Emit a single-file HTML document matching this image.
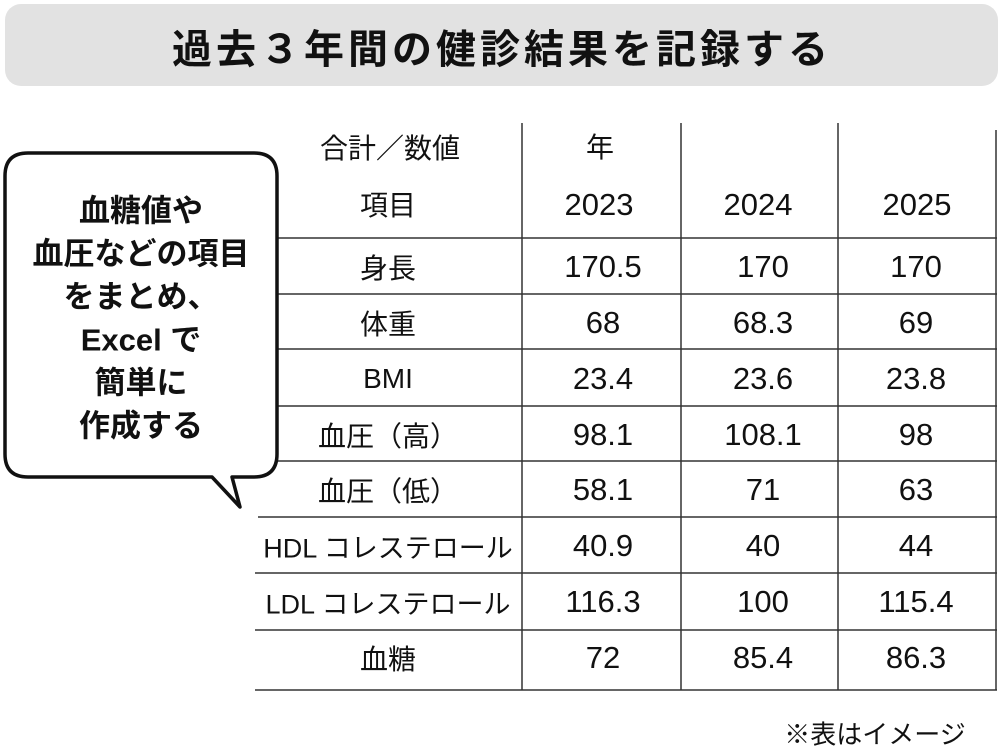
<!DOCTYPE html>
<html><head><meta charset="utf-8"><style>
body{margin:0;width:1000px;height:751px;background:#fff;position:relative;overflow:hidden;font-family:"Liberation Sans","Noto Sans CJK JP",sans-serif;color:#111}
.t{position:absolute;font-size:28px;text-align:center;transform:translate(-50%,-50%);white-space:nowrap}
.n{font-size:31px}
.b{position:absolute;font-size:31px;font-weight:bold;text-align:center;white-space:nowrap;left:141px;transform:translate(-50%,-50%)}
</style></head><body>
<svg width="1000" height="751" style="position:absolute;left:0;top:0">
<rect x="5" y="4" width="993" height="82" rx="16" fill="#e2e2e2"/>
<g stroke="#333" stroke-width="1.5">
<line x1="522" y1="123" x2="522" y2="690"/>
<line x1="681" y1="123" x2="681" y2="690"/>
<line x1="838" y1="123" x2="838" y2="690"/>
<line x1="996" y1="130" x2="996" y2="690"/>
<line x1="278" y1="238" x2="997" y2="238"/>
<line x1="278" y1="294" x2="997" y2="294"/>
<line x1="278" y1="349" x2="997" y2="349"/>
<line x1="278" y1="406" x2="997" y2="406"/>
<line x1="278" y1="461" x2="997" y2="461"/>
<line x1="258" y1="517" x2="997" y2="517"/>
<line x1="255" y1="573" x2="997" y2="573"/>
<line x1="255" y1="630" x2="997" y2="630"/>
<line x1="255" y1="690" x2="997" y2="690"/>
</g>
<path d="M28,153 H254 Q277,153 277,176 V454 Q277,477 254,477 H232 L240,507 L212,477 H28 Q5,477 5,454 V176 Q5,153 28,153 Z" fill="#fff" stroke="#111" stroke-width="3.5" stroke-linejoin="round"/>
</svg>
<div class="t" style="left:502px;top:46px;font-size:40px;font-weight:bold;letter-spacing:4px">過去３年間の健診結果を記録する</div>
<div class="b" style="top:208px">血糖値や</div>
<div class="b" style="top:251px">血圧などの項目</div>
<div class="b" style="top:294px">をまとめ、</div>
<div class="b" style="top:337px">Excel で</div>
<div class="b" style="top:380px">簡単に</div>
<div class="b" style="top:423px">作成する</div>
<div class="t" style="left:390px;top:147px">合計／数値</div>
<div class="t" style="left:600px;top:146px">年</div>
<div class="t" style="left:388px;top:204px">項目</div>
<div class="t n" style="left:599px;top:205px">2023</div>
<div class="t n" style="left:758px;top:205px">2024</div>
<div class="t n" style="left:917px;top:205px">2025</div>

<div class="t" style="left:388px;top:267px">身長</div>
<div class="t n" style="left:603px;top:267px">170.5</div>
<div class="t n" style="left:763px;top:267px">170</div>
<div class="t n" style="left:916px;top:267px">170</div>

<div class="t" style="left:388px;top:323px">体重</div>
<div class="t n" style="left:603px;top:323px">68</div>
<div class="t n" style="left:763px;top:323px">68.3</div>
<div class="t n" style="left:916px;top:323px">69</div>

<div class="t" style="left:388px;top:379px">BMI</div>
<div class="t n" style="left:603px;top:379px">23.4</div>
<div class="t n" style="left:763px;top:379px">23.6</div>
<div class="t n" style="left:916px;top:379px">23.8</div>

<div class="t" style="left:388px;top:435px">血圧（高）</div>
<div class="t n" style="left:603px;top:435px">98.1</div>
<div class="t n" style="left:763px;top:435px">108.1</div>
<div class="t n" style="left:916px;top:435px">98</div>

<div class="t" style="left:388px;top:490px">血圧（低）</div>
<div class="t n" style="left:603px;top:490px">58.1</div>
<div class="t n" style="left:763px;top:490px">71</div>
<div class="t n" style="left:916px;top:490px">63</div>

<div class="t" style="left:388px;top:546px;font-size:27px">HDL コレステロール</div>
<div class="t n" style="left:603px;top:546px">40.9</div>
<div class="t n" style="left:763px;top:546px">40</div>
<div class="t n" style="left:916px;top:546px">44</div>

<div class="t" style="left:388px;top:602px;font-size:27px">LDL コレステロール</div>
<div class="t n" style="left:603px;top:602px">116.3</div>
<div class="t n" style="left:763px;top:602px">100</div>
<div class="t n" style="left:916px;top:602px">115.4</div>

<div class="t" style="left:388px;top:658px">血糖</div>
<div class="t n" style="left:603px;top:658px">72</div>
<div class="t n" style="left:763px;top:658px">85.4</div>
<div class="t n" style="left:916px;top:658px">86.3</div>

<div class="t" style="left:875px;top:733px;font-size:26px">※表はイメージ</div>
</body></html>
